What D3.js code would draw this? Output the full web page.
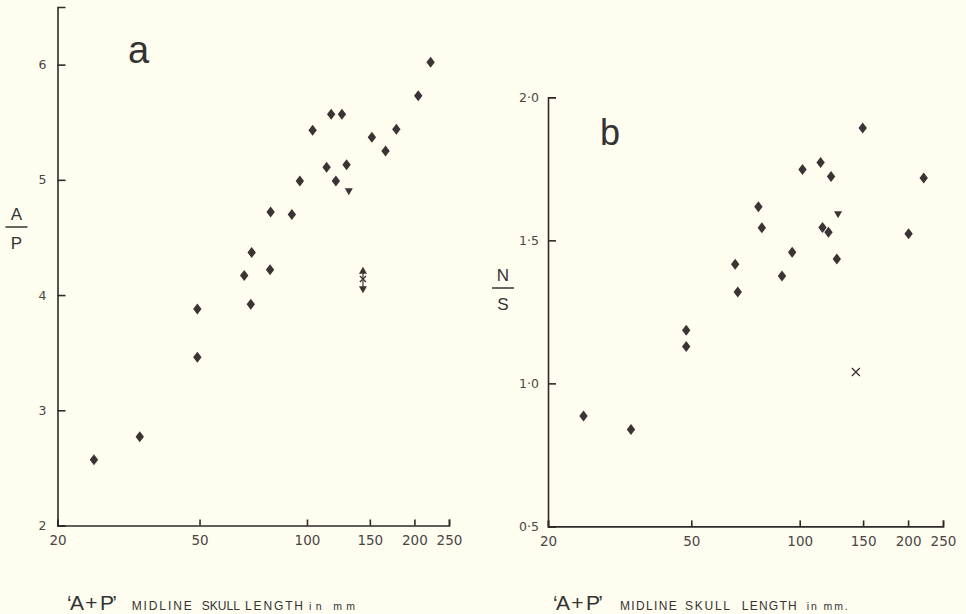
<!DOCTYPE html>
<html>
<head>
<meta charset="utf-8" />
<title>A/P and N/S against skull length</title>
<style type="text/css">
body{
	margin:0;
	background:#fffdf0;
}
svg text{
	font-family:"Liberation Sans", Arial, sans-serif;
}
.tick text{
	font-family:"DejaVu Sans", sans-serif;
	fill:#4a4545;
}
</style>
<script src="https://cdn.jsdelivr.net/npm/d3@7"></script>
</head>
<body>
<div id="chart"></div>
<script>
// shared x ticks (log scale, mm)
var xTicks = [20, 50, 100, 150, 200, 250];
var xTickLabels = ["20", "50", "100", "150", "200", "250"];

// panel a : A/P
var aTicks = [2, 3, 4, 5, 6];
var aTickLabels = ["2", "3", "4", "5", "6"];
var aLength = [25.3, 34.0, 49.3, 49.3, 66.7, 69.6, 70.0, 78.8, 79.1, 90.7, 95.5,
	103.7, 113.5, 116.9, 120.5, 125.3, 129.1, 152, 166, 178, 205, 222];
var aRatio = [2.57, 2.77, 3.46, 3.88, 4.17, 3.92, 4.37, 4.22, 4.72, 4.70, 4.99,
	5.43, 5.11, 5.57, 4.99, 5.57, 5.13, 5.37, 5.25, 5.44, 5.73, 6.02];
var aTriLength = [131];
var aTriRatio = [4.90];
// range marker: low, mid (x), high
var aRangeLength = 143.5;
var aRange = [4.05, 4.14, 4.21];

// panel b : N/S
var bTicks = [0.5, 1.0, 1.5, 2.0];
var bTickLabels = ["0·5", "1·0", "1·5", "2·0"];
var bLength = [25.1, 34.0, 48.4, 48.4, 66.2, 67.3, 76.8, 78.5, 89.3, 95.3, 101.8,
	114.3, 115.7, 120.2, 122.2, 126.8, 149.6, 200.6, 221];
var bRatio = [0.886, 0.839, 1.186, 1.129, 1.416, 1.319, 1.617, 1.544, 1.375, 1.458, 1.748,
	1.772, 1.545, 1.528, 1.723, 1.435, 1.893, 1.523, 1.718];
var bTriLength = [127.8];
var bTriRatio = [1.591];
var bCrossLength = [143.2];
var bCrossRatio = [1.040];

var ink = "#3b3434";
var axisInk = "#2e2a2a";

var SVG = d3.select("#chart")
	.append("svg")
	.attr("width", 966)
	.attr("height", 614);

SVG.append("rect")
	.attr("width", 966)
	.attr("height", 614)
	.attr("fill", "#fffdf0");

var diamond = "M0,-5.5L4.2,0L0,5.5L-4.2,0Z";
var triDown = "M-4,-3L4,-3L0,4Z";
var triUp = "M0,-4L4,3L-4,3Z";

function drawPanel(p){
	var x = d3.scaleLog().domain([20, 250]).range([p.left, p.right]);
	var y = d3.scaleLinear().domain(p.yDomain).range([p.bottom, p.top]);
	var g = SVG.append("g");

	// x axis, ticks pointing in
	var xAxis = d3.axisBottom(x)
		.tickValues(xTicks)
		.tickFormat(function(d, i){ return xTickLabels[i]; })
		.tickSizeInner(-6)
		.tickSizeOuter(-6)
		.tickPadding(10);
	var gx = g.append("g")
		.attr("transform", "translate(0," + p.bottom + ")")
		.call(xAxis);
	gx.selectAll("text").attr("font-size", 13.5).attr("font-family", null);

	// y axis
	var yAxis = d3.axisLeft(y)
		.tickValues(p.yTicks)
		.tickFormat(function(d, i){ return p.yLabels[i]; })
		.tickSizeInner(-8)
		.tickSizeOuter(-8)
		.tickPadding(p.yPad);
	var gy = g.append("g")
		.attr("transform", "translate(" + p.left + ",0)")
		.call(yAxis);
	gy.selectAll("text").attr("font-size", 12.5).attr("font-family", null);

	g.selectAll(".domain, .tick line")
		.attr("stroke", axisInk)
		.attr("stroke-width", 1.6);

	// diamonds
	g.selectAll("path.pt")
		.data(p.xs)
		.enter()
		.append("path")
		.attr("class", "pt")
		.attr("d", diamond)
		.attr("fill", ink)
		.attr("transform", function(d, i){
			return "translate(" + x(d) + "," + y(p.ys[i]) + ")";
		});

	// down triangles
	g.selectAll("path.tri")
		.data(p.triX)
		.enter()
		.append("path")
		.attr("class", "tri")
		.attr("d", triDown)
		.attr("fill", ink)
		.attr("transform", function(d, i){
			return "translate(" + x(d) + "," + y(p.triY[i]) + ")";
		});

	// panel letter
	g.append("text")
		.attr("x", p.letterX)
		.attr("y", p.letterY)
		.attr("font-size", p.letterSize)
		.attr("fill", "#333")
		.text(p.letter);

	// fraction label
	g.append("text")
		.attr("x", p.fracX)
		.attr("y", p.fracY)
		.attr("text-anchor", "middle")
		.attr("font-size", 17)
		.attr("fill", "#333")
		.text(p.num);
	g.append("line")
		.attr("x1", p.fracX - 11)
		.attr("x2", p.fracX + 11)
		.attr("y1", p.fracY + 7)
		.attr("y2", p.fracY + 7)
		.attr("stroke", "#333")
		.attr("stroke-width", 1.5);
	g.append("text")
		.attr("x", p.fracX)
		.attr("y", p.fracY + 29)
		.attr("text-anchor", "middle")
		.attr("font-size", 17)
		.attr("fill", "#333")
		.text(p.den);

	// x title
	var t = p.title;
	g.append("text")
		.attr("x", t.x0)
		.attr("y", 610)
		.attr("font-size", 21)
		.attr("fill", "#333")
		.attr("textLength", 50)
		.attr("lengthAdjust", "spacing")
		.text("‘A + P’");
	t.words.forEach(function(w){
		var small = w[0].indexOf("in") == 0;
		g.append("text")
			.attr("x", w[1])
			.attr("y", 610)
			.attr("font-size", small ? 10.5 : 12)
			.attr("fill", "#333")
			.attr("textLength", w[2])
			.attr("lengthAdjust", "spacing")
			.text(w[0]);
	});

	return {g:g, x:x, y:y};
}

var A = drawPanel({
	left:57.5, right:449, top:7, bottom:525.5,
	yDomain:[2, 6.5], yTicks:aTicks, yLabels:aTickLabels, yPad:11,
	xs:aLength, ys:aRatio, triX:aTriLength, triY:aTriRatio,
	letter:"a", letterX:128, letterY:62.5, letterSize:38,
	num:"A", den:"P", fracX:16.5, fracY:220,
	title:{x0:67, words:[["MIDLINE", 131.7, 60], ["SKULL", 201.7, 38.3], ["LENGTH", 245, 58], ["in mm", 309, 46]]}
});

var B = drawPanel({
	left:548, right:943, top:97.3, bottom:526.4,
	yDomain:[0.5, 2.0], yTicks:bTicks, yLabels:bTickLabels, yPad:9,
	xs:bLength, ys:bRatio, triX:bTriLength, triY:bTriRatio,
	letter:"b", letterX:600, letterY:145, letterSize:36,
	num:"N", den:"S", fracX:503, fracY:281,
	title:{x0:553, words:[["MIDLINE", 620, 56.7], ["SKULL", 685, 45], ["LENGTH", 741.7, 55], ["in mm.", 806.7, 41]]}
});

// panel a range marker: triangle up over x over triangle down
var rx = A.x(aRangeLength);
A.g.append("line")
	.attr("x1", rx).attr("x2", rx)
	.attr("y1", A.y(aRange[0])).attr("y2", A.y(aRange[2]))
	.attr("stroke", ink)
	.attr("stroke-width", 1.2);
A.g.append("path")
	.attr("d", triUp)
	.attr("fill", ink)
	.attr("transform", "translate(" + rx + "," + A.y(aRange[2]) + ")");
A.g.append("path")
	.attr("d", triDown)
	.attr("fill", ink)
	.attr("transform", "translate(" + rx + "," + A.y(aRange[0]) + ")");
A.g.append("path")
	.attr("d", "M-3,-3L3,3M3,-3L-3,3")
	.attr("stroke", ink)
	.attr("stroke-width", 1.3)
	.attr("transform", "translate(" + rx + "," + A.y(aRange[1]) + ")");

// panel b cross
B.g.selectAll("path.cross")
	.data(bCrossLength)
	.enter()
	.append("path")
	.attr("class", "cross")
	.attr("d", "M-4,-4L4,4M4,-4L-4,4")
	.attr("stroke", ink)
	.attr("stroke-width", 1.3)
	.attr("transform", function(d, i){
		return "translate(" + B.x(d) + "," + B.y(bCrossRatio[i]) + ")";
	});
</script>
</body>
</html>
